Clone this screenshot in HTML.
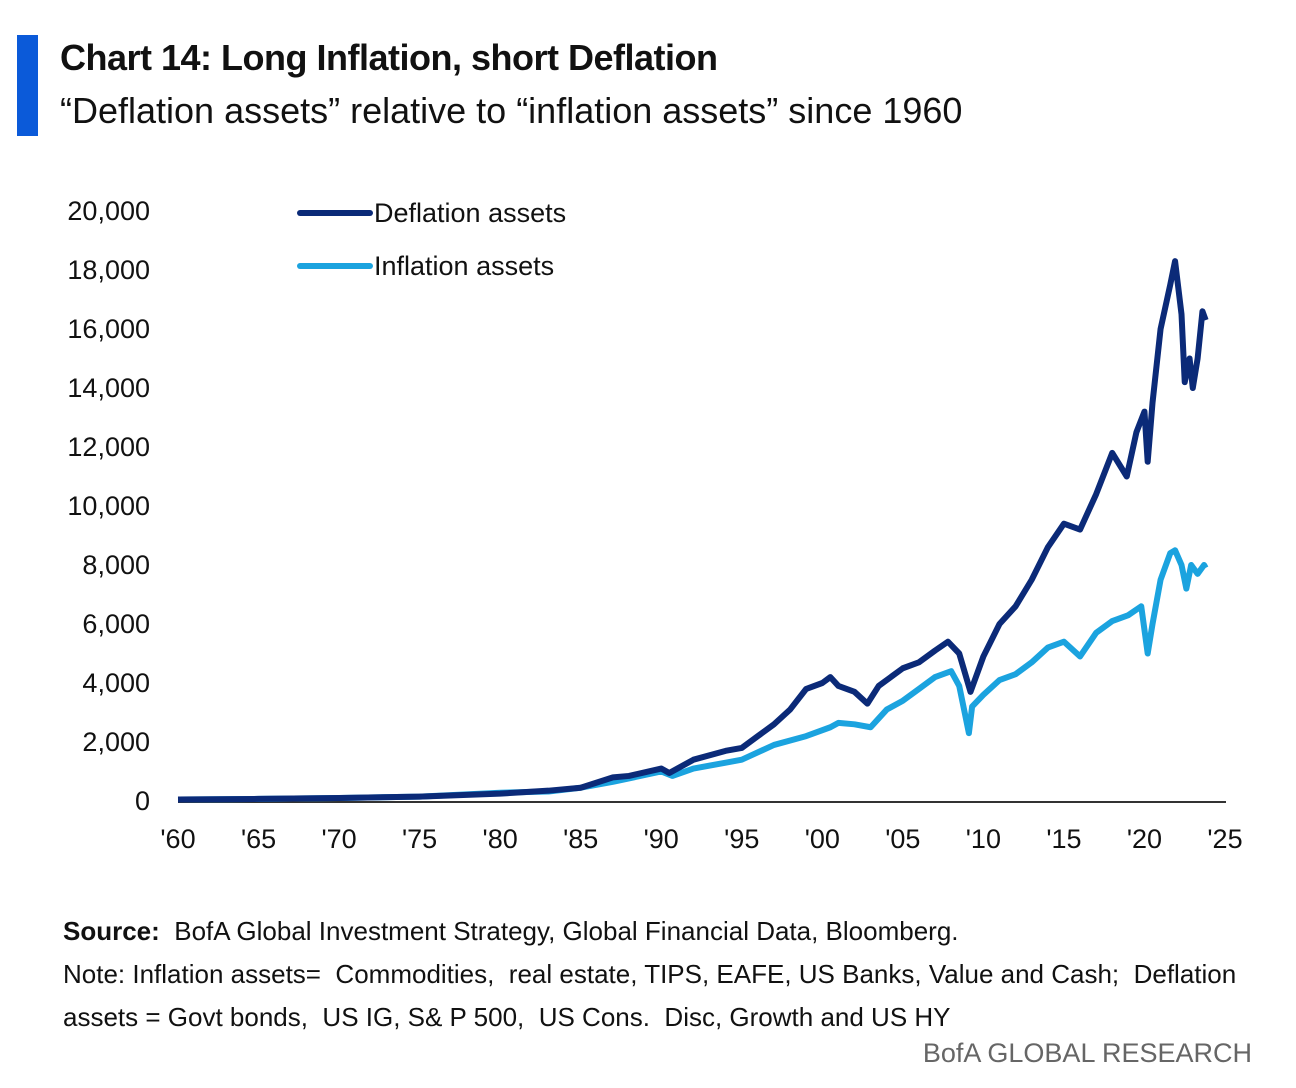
<!DOCTYPE html>
<html><head><meta charset="utf-8"><style>
body{margin:0;background:#fff;width:1296px;height:1088px;overflow:hidden;font-family:"Liberation Sans Narrow","Liberation Sans",sans-serif;color:#111}
.abs{position:absolute;white-space:nowrap}
</style></head><body>
<div class="abs" style="left:17px;top:35px;width:21px;height:101px;background:#0b5ad9"></div>
<div class="abs" style="left:60px;top:37px;font-size:36px;font-weight:bold;letter-spacing:-0.5px">Chart 14: Long Inflation, short Deflation</div>
<div class="abs" style="left:60px;top:90px;font-size:36px">“Deflation assets” relative to “inflation assets” since 1960</div>
<svg class="abs" style="left:0;top:0" width="1296" height="1088" id="chart"></svg>
<div class="abs" style="left:63px;top:910px;font-size:26px;line-height:43px"><b>Source:</b>&nbsp; BofA Global Investment Strategy, Global Financial Data, Bloomberg.<br>Note: Inflation assets= &nbsp;Commodities, &nbsp;real estate, TIPS, EAFE, US Banks, Value and Cash; &nbsp;Deflation<br>assets = Govt bonds, &nbsp;US IG, S&amp; P 500, &nbsp;US Cons. &nbsp;Disc, Growth and US HY</div>
<div class="abs" style="right:44px;top:1038px;font-size:27px;color:#666">BofA GLOBAL RESEARCH</div>
<script>
const yTicks=[0,2000,4000,6000,8000,10000,12000,14000,16000,18000,20000];
const xTickYears=[1960,1965,1970,1975,1980,1985,1990,1995,2000,2005,2010,2015,2020,2025];
const deflYears=[1960,1965,1970,1975,1980,1983,1985,1987,1988,1990,1990.5,1992,1994,1995,1996,1997,1998,1999,2000,2000.5,2001,2002,2002.8,2003.5,2005,2006,2007,2007.8,2008.5,2009.2,2010,2011,2012,2013,2014,2015,2016,2017,2018,2018.9,2019.5,2020,2020.2,2020.5,2021,2021.6,2021.9,2022.3,2022.5,2022.8,2023,2023.3,2023.6,2023.8];
const deflValues=[50,70,100,150,250,350,450,800,850,1100,950,1400,1700,1800,2200,2600,3100,3800,4000,4200,3900,3700,3300,3900,4500,4700,5100,5400,5000,3700,4900,6000,6600,7500,8600,9400,9200,10400,11800,11000,12500,13200,11500,13500,16000,17500,18300,16500,14200,15000,14000,15000,16600,16300];
const inflYears=[1960,1965,1970,1975,1980,1983,1985,1987,1990,1990.7,1992,1994,1995,1997,1999,2000.5,2001,2002,2003,2004,2005,2006,2007,2008,2008.5,2009.1,2009.3,2010,2011,2012,2013,2014,2015,2016,2017,2018,2019,2019.8,2020.2,2020.5,2021,2021.6,2021.9,2022.3,2022.6,2022.9,2023.3,2023.7,2023.8];
const inflValues=[50,70,100,150,280,320,450,650,1000,850,1100,1300,1400,1900,2200,2500,2650,2600,2500,3100,3400,3800,4200,4400,3900,2300,3200,3600,4100,4300,4700,5200,5400,4900,5700,6100,6300,6600,5000,6000,7500,8400,8500,8000,7200,8000,7700,8000,7900];
const NS='http://www.w3.org/2000/svg';
const svg=document.getElementById('chart');
const x=yr=>178+(yr-1960)*(1225-178)/65;
const y=v=>801-v*(801-211)/20000;
function mk(t,a){const e=document.createElementNS(NS,t);for(const k in a)e.setAttribute(k,a[k]);svg.appendChild(e);return e;}
yTicks.forEach(v=>{const t=mk('text',{x:150,y:y(v)+9,'text-anchor':'end','font-size':27,fill:'#111'});t.textContent=v.toLocaleString('en-US');

});
xTickYears.forEach(yr=>{const t=mk('text',{x:x(yr),y:848,'text-anchor':'middle','font-size':27,fill:'#111'});t.textContent="'"+String(yr).slice(2);

});
const ax=mk('line',{x1:178,x2:1226,y1:802,y2:802,stroke:'#333','stroke-width':2});


function line(ys,vs,col,name){const p=mk('polyline',{points:ys.map((yr,i)=>x(yr)+','+y(vs[i])).join(' '),fill:'none',stroke:col,'stroke-width':6,'stroke-linejoin':'round'});

}
line(inflYears,inflValues,'#1ba3df','inflation-assets-line');
line(deflYears,deflValues,'#0b2a78','deflation-assets-line');
[['#0b2a78','Deflation assets',213],['#1ba3df','Inflation assets',266]].forEach(([c,l,yy])=>{
const g=mk('line',{x1:300,x2:370,y1:yy,y2:yy,stroke:c,'stroke-width':6,'stroke-linecap':'round'});


const t=mk('text',{x:374,y:yy+9,'font-size':27,fill:'#111'});t.textContent=l;

});
</script>
</body></html>
